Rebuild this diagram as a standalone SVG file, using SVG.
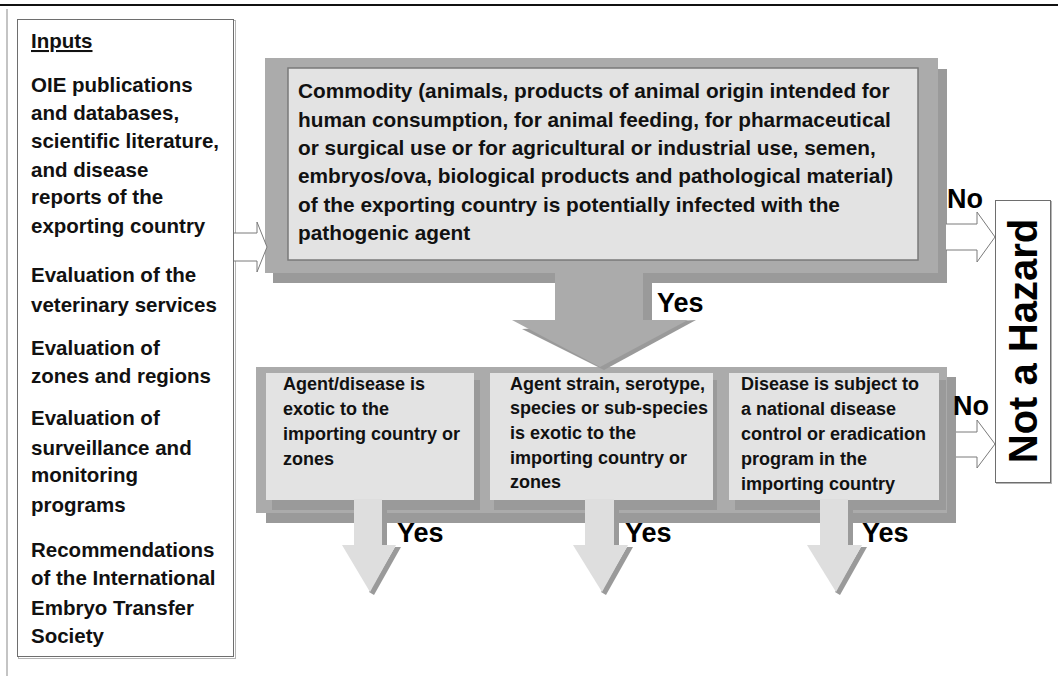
<svg xmlns="http://www.w3.org/2000/svg" width="1058" height="676" viewBox="0 0 1058 676">
  <defs>
    <style>
      text { font-family: "Liberation Sans", Arial, sans-serif; font-weight: bold; fill: #111; }
      .inp { font-size: 20.5px; }
      .main { font-size: 20.8px; }
      .pan { font-size: 18px; }
      .lbl { font-size: 27px; fill: #000; }
      .haz { font-size: 40px; fill: #000; }
      .frame { fill: #ababab; }
      .shadow { fill: #9a9a9a; }
      .card { fill: #e3e3e3; }
      .hollow { fill: #fff; stroke: #7a7a7a; stroke-width: 1; }
      .shaft { fill: #dedede; }
    </style>
  </defs>

  <rect width="1058" height="676" fill="#fff"/>

  <!-- page rules -->
  <line x1="0" y1="5" x2="1058" y2="5" stroke="#111" stroke-width="2"/>
  <line x1="7" y1="9" x2="7" y2="676" stroke="#b0b0b0" stroke-width="1.5"/>

  <!-- Inputs panel -->
  <g id="inputs">
    <rect x="18.5" y="20.5" width="217" height="638" fill="none" stroke="#b5b5b5" stroke-width="1"/>
    <rect x="17.5" y="19.5" width="216" height="637" fill="#fff" stroke="#6e6e6e" stroke-width="1"/>
    <text class="inp" x="31" y="48" text-decoration="underline">Inputs</text>
    <text class="inp" x="31" y="92">OIE publications</text>
    <text class="inp" x="31" y="120">and databases,</text>
    <text class="inp" x="31" y="148">scientific literature,</text>
    <text class="inp" x="31" y="177">and disease</text>
    <text class="inp" x="31" y="204">reports of the</text>
    <text class="inp" x="31" y="233">exporting country</text>
    <text class="inp" x="31" y="282">Evaluation of the</text>
    <text class="inp" x="31" y="312">veterinary services</text>
    <text class="inp" x="31" y="355">Evaluation of</text>
    <text class="inp" x="31" y="383">zones and regions</text>
    <text class="inp" x="31" y="425">Evaluation of</text>
    <text class="inp" x="31" y="455">surveillance and</text>
    <text class="inp" x="31" y="482">monitoring</text>
    <text class="inp" x="31" y="512">programs</text>
    <text class="inp" x="31" y="557">Recommendations</text>
    <text class="inp" x="31" y="585">of the International</text>
    <text class="inp" x="31" y="615">Embryo Transfer</text>
    <text class="inp" x="31" y="643">Society</text>
  </g>

  <!-- Commodity question -->
  <g id="commodity">
    <rect class="shadow" x="273" y="69" width="674" height="214"/>
    <rect class="frame" x="265" y="58" width="673" height="215"/>
    <rect class="card" x="288" y="68" width="630" height="192" stroke="#7a7a7a" stroke-width="1.5"/>
    <text class="main" x="298" y="98">Commodity (animals, products of animal origin intended for</text>
    <text class="main" x="298" y="127">human consumption, for animal feeding, for pharmaceutical</text>
    <text class="main" x="298" y="155">or surgical use or for agricultural or industrial use, semen,</text>
    <text class="main" x="298" y="183">embryos/ova, biological products and pathological material)</text>
    <text class="main" x="298" y="212">of the exporting country is potentially infected with the</text>
    <text class="main" x="298" y="240">pathogenic agent</text>
  </g>

  <!-- Three exotic / control checks -->
  <g id="checks">
    <rect class="shadow" x="266" y="377" width="690" height="146"/>
    <rect class="frame" x="256" y="367" width="691" height="146"/>
  </g>
  <g id="check-exotic">
    <rect class="shadow" x="272" y="380" width="208" height="130"/>
    <rect class="card" x="266" y="373" width="208" height="127"/>
    <text class="pan" x="283" y="390">Agent/disease is</text>
    <text class="pan" x="283" y="415">exotic to the</text>
    <text class="pan" x="283" y="440">importing country or</text>
    <text class="pan" x="283" y="465">zones</text>
  </g>
  <g id="check-strain">
    <rect class="shadow" x="494" y="380" width="223" height="130"/>
    <rect class="card" x="490" y="373" width="223" height="127"/>
    <text class="pan" x="510" y="390">Agent strain, serotype,</text>
    <text class="pan" x="510" y="414">species or sub-species</text>
    <text class="pan" x="510" y="439">is exotic to the</text>
    <text class="pan" x="510" y="464">importing country or</text>
    <text class="pan" x="510" y="488">zones</text>
  </g>
  <g id="check-control">
    <rect class="shadow" x="735" y="380" width="211" height="130"/>
    <rect class="card" x="729" y="373" width="210" height="127"/>
    <text class="pan" x="741" y="390">Disease is subject to</text>
    <text class="pan" x="741" y="415">a national disease</text>
    <text class="pan" x="741" y="440">control or eradication</text>
    <text class="pan" x="741" y="465">program in the</text>
    <text class="pan" x="741" y="490">importing country</text>
  </g>

  <!-- Outcome -->
  <g id="not-hazard">
    <rect x="996.5" y="201.5" width="55" height="282" fill="none" stroke="#b5b5b5" stroke-width="1"/>
    <rect x="995.5" y="200.5" width="55" height="282" fill="#fff" stroke="#6e6e6e" stroke-width="1"/>
    <text class="haz" transform="translate(1037 341) rotate(-90)" text-anchor="middle">Not a Hazard</text>
  </g>

  <!-- Connectors -->
  <g id="connectors">
    <!-- inputs feed the commodity question -->
    <path class="hollow" d="M234 233 H257 V222 L267 247 L257 272 V261 H234"/>

    <!-- Yes: commodity to checks -->
    <rect class="frame" x="555" y="272" width="88" height="50"/>
    <rect class="shadow" x="643" y="273" width="9" height="48"/>
    <polygon class="shadow" points="522,329 696,320 604,370"/>
    <polygon class="frame" points="512,320 688,320 600,367"/>
    <text class="lbl" x="657" y="312">Yes</text>

    <!-- No: to Not a Hazard -->
    <path class="hollow" d="M946 224 H977 V212 L995 237 L977 262 V250 H946"/>
    <text class="lbl" x="947" y="208">No</text>
    <path class="hollow" d="M956 432 H977 V420 L995 444 L977 468 V457 H956"/>
    <text class="lbl" x="953" y="415">No</text>

    <!-- Yes outputs below the checks -->
    <rect class="shaft" x="354" y="499" width="28" height="48"/>
    <rect class="shadow" x="382" y="502" width="5" height="44"/>
    <polygon class="shadow" points="395,547 401,547 374,595 369,592"/>
    <polygon class="shaft" points="342,545 396,545 370,592"/>
    <text class="lbl" x="397" y="542">Yes</text>

    <rect class="shaft" x="585" y="499" width="29" height="48"/>
    <rect class="shadow" x="614" y="502" width="5" height="44"/>
    <polygon class="shadow" points="627,547 633,547 606,595 601,592"/>
    <polygon class="shaft" points="573,545 628,545 602,592"/>
    <text class="lbl" x="625" y="542">Yes</text>

    <rect class="shaft" x="820" y="499" width="28" height="48"/>
    <rect class="shadow" x="848" y="502" width="5" height="44"/>
    <polygon class="shadow" points="861,547 867,547 840,595 835,592"/>
    <polygon class="shaft" points="807,545 862,545 836,592"/>
    <text class="lbl" x="862" y="542">Yes</text>
  </g>
</svg>
